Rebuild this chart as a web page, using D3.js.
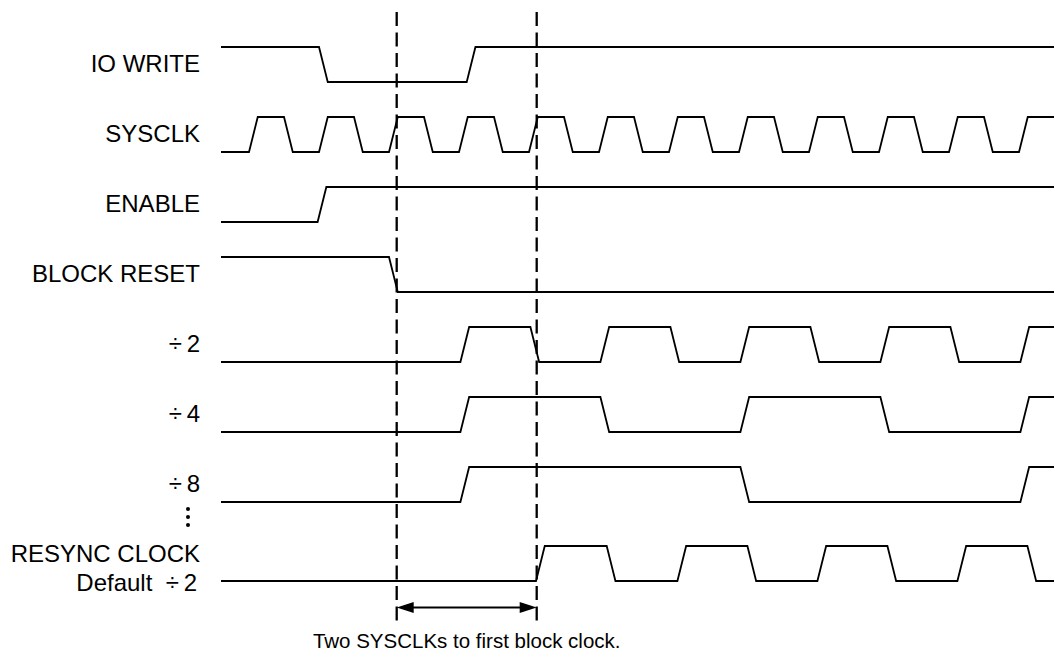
<!DOCTYPE html>
<html lang="en">
  <head>
	<meta charset="utf-8"/>
	<title>Block clock resync timing</title>
	<script src="https://cdn.jsdelivr.net/npm/d3@7"></script>
	<style>
		body { margin: 0; background: #ffffff; }
		svg { display: block; }
		text { font-family: Arial, "Liberation Sans", sans-serif; fill: #000000; }
	</style>
  </head>
  <body>
	<svg id="chart"></svg>
	<script>
		// time is measured in SYSCLK periods, levels are 1 = high, 0 = low
		const labels = ['IO WRITE', 'SYSCLK', 'ENABLE', 'BLOCK RESET', '÷\u20092', '÷\u20094', '÷\u20098', 'RESYNC CLOCK']
		const startLevels = [1, 0, 0, 1, 0, 0, 0, 0]

		const ioWriteEdges = [1.0, 3.11]
		const sysclkEdges = [0, 0.5, 1, 1.5, 2, 2.5, 3, 3.5, 4, 4.5, 5, 5.5, 6, 6.5, 7, 7.5, 8, 8.5, 9, 9.5, 10, 10.5, 11]
		const enableEdges = [0.98]
		const blockResetEdges = [2.0]
		const div2Edges = [3.02, 4.02, 5.02, 6.02, 7.02, 8.02, 9.02, 10.02, 11.02]
		const div4Edges = [3.02, 5.02, 7.02, 9.02, 11.02]
		const div8Edges = [3.02, 7.02, 11.02]
		const resyncEdges = [4.1, 5.11, 6.12, 7.12, 8.12, 9.12, 10.12, 11.12]

		const markerTimes = [2.11, 4.11]
		const caption = 'Two SYSCLKs to first block clock.'

		const edgeWidth = 0.125
		const timeDomain = [-0.4, 11.5]

		const width = 1055
		const height = 661

		const svg = d3.select('#chart')
			.attr('width', width)
			.attr('height', height)
			.attr('viewBox', `0 0 ${width} ${height}`)

		const x = d3.scaleLinear().domain(timeDomain).range([221, 1054])
		// one lane per signal, the last one sits a bit lower because of the dots
		const lane = d3.scaleLinear().domain([0, 7]).range([47, 537])
		const laneTop = (i) => lane(i) + (i === 7 ? 9 : 0)
		const level = d3.scaleLinear().domain([1, 0]).range([0, 35])

		const signals = [ioWriteEdges, sysclkEdges, enableEdges, blockResetEdges,
			div2Edges, div4Edges, div8Edges, resyncEdges].map((edges, i) => {
			let cur = startLevels[i]
			const pts = [[timeDomain[0], cur]]
			edges.forEach((t) => {
				pts.push([t, cur])
				cur = 1 - cur
				pts.push([t + edgeWidth, cur])
			})
			pts.push([timeDomain[1], cur])
			return { label: labels[i], index: i, points: pts }
		})

		//Draw the waveforms

		svg.append('g')
			.selectAll('path')
			.data(signals)
			.enter()
			.append('path')
			.attr('fill', 'none')
			.attr('stroke', '#000000')
			.attr('stroke-width', 1.8)
			.attr('stroke-linejoin', 'miter')
			.attr('d', (d) => d3.line()
				.x((p) => x(p[0]))
				.y((p) => laneTop(d.index) + level(p[1]))(d.points))

		//Labels

		svg.append('g')
			.selectAll('text')
			.data(signals)
			.enter()
			.append('text')
			.attr('x', 200)
			.attr('y', (d) => laneTop(d.index) + (d.index === 7 ? 15.7 : 24.7))
			.attr('text-anchor', 'end')
			.attr('font-size', 24)
			.text((d) => d.label)

		svg.append('text')
			.attr('x', 197)
			.attr('y', laneTop(7) + 44.7)
			.attr('text-anchor', 'end')
			.attr('font-size', 24)
			.text('Default \u00a0÷\u20092')

		// vertical ellipsis between ÷8 and RESYNC CLOCK
		svg.append('g')
			.selectAll('circle')
			.data([0, 1, 2])
			.enter()
			.append('circle')
			.attr('cx', 188)
			.attr('cy', (d) => 509 + d * 8)
			.attr('r', 2)
			.attr('fill', '#000000')

		//Dashed time markers

		svg.append('g')
			.selectAll('line')
			.data(markerTimes)
			.enter()
			.append('line')
			.attr('x1', (d) => x(d))
			.attr('x2', (d) => x(d))
			.attr('y1', 12)
			.attr('y2', 624)
			.attr('stroke', '#000000')
			.attr('stroke-width', 2.3)
			.attr('stroke-dasharray', '14,6.5')

		//Double headed arrow between the markers

		const arrowY = 607.5
		const x0 = x(markerTimes[0])
		const x1 = x(markerTimes[1])
		svg.append('line')
			.attr('x1', x0 + 10)
			.attr('x2', x1 - 10)
			.attr('y1', arrowY)
			.attr('y2', arrowY)
			.attr('stroke', '#000000')
			.attr('stroke-width', 1.8)

		svg.append('g')
			.selectAll('path')
			.data([[x0, 1], [x1, -1]])
			.enter()
			.append('path')
			.attr('fill', '#000000')
			.attr('d', (d) => `M${d[0]},${arrowY} L${d[0] + d[1] * 17},${arrowY - 5.5} L${d[0] + d[1] * 17},${arrowY + 5.5} Z`)

		svg.append('text')
			.attr('x', (x0 + x1) / 2)
			.attr('y', 648)
			.attr('text-anchor', 'middle')
			.attr('font-size', 20.5)
			.text(caption)
	</script>
  </body>
</html>
